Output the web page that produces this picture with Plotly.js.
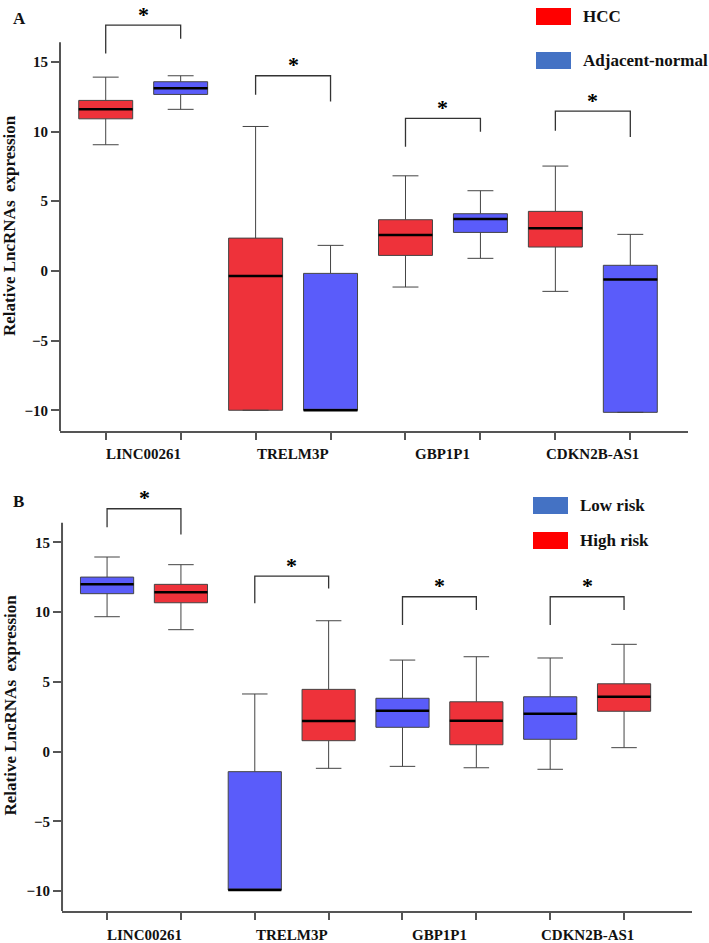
<!DOCTYPE html>
<html>
<head>
<meta charset="utf-8">
<script src="https://cdn.plot.ly/plotly-3.0.1.min.js"></script>
<style>
body { margin: 0; background: #fff; }
#chart { width: 709px; height: 943px; }
</style>
</head>
<body>
<div id="chart"></div>
<script>
let genes = ['LINC00261', 'TRELM3P', 'GBP1P1', 'CDKN2B-AS1'];

// panel A: HCC vs adjacent-normal
let hccUpper = [13.9, 10.36, 6.82, 7.52];
let hccQ3 = [12.23, 2.35, 3.67, 4.27];
let hccMedian = [11.59, -0.37, 2.57, 3.05];
let hccQ1 = [10.91, -10, 1.11, 1.71];
let hccLower = [9.05, -10, -1.16, -1.47];

let adjUpper = [14.0, 1.83, 5.75, 2.62];
let adjQ3 = [13.57, -0.18, 4.1, 0.4];
let adjMedian = [13.11, -10, 3.72, -0.61];
let adjQ1 = [12.66, -10, 2.76, -10.15];
let adjLower = [11.59, -10, 0.9, -10.15];

// panel B: low risk vs high risk
let lowUpper = [13.95, 4.13, 6.56, 6.71];
let lowQ3 = [12.51, -1.44, 3.82, 3.93];
let lowMedian = [11.99, -9.93, 2.93, 2.71];
let lowQ1 = [11.32, -9.93, 1.74, 0.88];
let lowLower = [9.67, -9.93, -1.06, -1.27];

let highUpper = [13.4, 9.38, 6.8, 7.69];
let highQ3 = [11.99, 4.46, 3.57, 4.86];
let highMedian = [11.42, 2.19, 2.21, 3.93];
let highQ1 = [10.67, 0.78, 0.49, 2.89];
let highLower = [8.74, -1.2, -1.16, 0.28];

// significance brackets: top, left leg end, right leg end
let bracketTopA = [17.63, 14.0, 10.94, 11.46];
let bracketLeftA = [15.6, 12.63, 8.9, 10.05];
let bracketRightA = [16.65, 12.16, 9.98, 9.6];
let bracketTopB = [17.41, 12.58, 11.1, 11.1];
let bracketLeftB = [16.08, 10.63, 9.07, 9.07];
let bracketRightB = [15.57, 11.7, 10.15, 10.15];

let red = 'rgb(238,50,58)';
let blue = 'rgb(90,92,250)';
let serif = 'Liberation Serif, Times New Roman, serif';
let boxWidth = 0.72;

let firstPos = genes.map((g, i) => 2 * i);
let secondPos = genes.map((g, i) => 2 * i + 1);

// pixel -> paper helpers (margin l=60 r=17 t=20 b=32)
function px2x(px) { return (px - 60) / 632; }
function px2y(py) { return (911 - py) / 891; }

function boxTrace(pos, lower, q1, med, q3, upper, color, xa, ya) {
    return {
        type: 'box',
        x: pos,
        lowerfence: lower,
        q1: q1,
        median: med,
        q3: q3,
        upperfence: upper,
        width: boxWidth,
        whiskerwidth: 0.48,
        fillcolor: color,
        line: { color: '#444', width: 1 },
        boxpoints: false,
        showlegend: false,
        hoverinfo: 'skip',
        xaxis: xa,
        yaxis: ya
    };
}

function medianTrace(pos, med, xa, ya) {
    let xs = [];
    let ys = [];
    for (let i = 0; i < pos.length; i++) {
        xs.push(pos[i] - boxWidth / 2, pos[i] + boxWidth / 2, null);
        ys.push(med[i], med[i], null);
    }
    return {
        type: 'scatter',
        mode: 'lines',
        x: xs,
        y: ys,
        line: { color: '#000', width: 2.5 },
        showlegend: false,
        hoverinfo: 'skip',
        xaxis: xa,
        yaxis: ya
    };
}

let data = [
    boxTrace(firstPos, hccLower, hccQ1, hccMedian, hccQ3, hccUpper, red, 'x', 'y'),
    boxTrace(secondPos, adjLower, adjQ1, adjMedian, adjQ3, adjUpper, blue, 'x', 'y'),
    medianTrace(firstPos, hccMedian, 'x', 'y'),
    medianTrace(secondPos, adjMedian, 'x', 'y'),
    boxTrace(firstPos, lowLower, lowQ1, lowMedian, lowQ3, lowUpper, blue, 'x2', 'y2'),
    boxTrace(secondPos, highLower, highQ1, highMedian, highQ3, highUpper, red, 'x2', 'y2'),
    medianTrace(firstPos, lowMedian, 'x2', 'y2'),
    medianTrace(secondPos, highMedian, 'x2', 'y2')
];

let shapes = [];
let annotations = [];

function addBrackets(tops, lefts, rights, xa, ya) {
    for (let i = 0; i < genes.length; i++) {
        let x0 = 2 * i;
        let x1 = 2 * i + 1;
        shapes.push({
            type: 'path',
            xref: xa, yref: ya,
            path: 'M' + x0 + ',' + lefts[i] + ' L' + x0 + ',' + tops[i] +
                  ' L' + x1 + ',' + tops[i] + ' L' + x1 + ',' + rights[i],
            line: { color: '#333', width: 1.3 }
        });
        annotations.push({
            xref: xa, yref: ya,
            x: 2 * i + 0.5, y: tops[i],
            text: '*',
            showarrow: false,
            yanchor: 'middle',
            yshift: 11,
            font: { family: serif, size: 22, weight: 'bold', color: '#000' }
        });
    }
}
addBrackets(bracketTopA, bracketLeftA, bracketRightA, 'x', 'y');
addBrackets(bracketTopB, bracketLeftB, bracketRightB, 'x2', 'y2');

// y axis lines stop short of the brackets
shapes.push({ type: 'line', xref: 'x domain', yref: 'y', x0: 0, x1: 0, y0: -11.49, y1: 16.4,
    line: { color: '#555', width: 2 } });
shapes.push({ type: 'line', xref: 'x2 domain', yref: 'y2', x0: 0, x1: 0, y0: -11.43, y1: 16.4,
    line: { color: '#555', width: 2 } });

// category labels under each pair
function addLabels(xa, py) {
    genes.forEach((g, i) => {
        annotations.push({
            xref: xa, yref: 'paper',
            x: 2 * i + 0.5, y: px2y(py),
            text: g,
            showarrow: false,
            yanchor: 'middle',
            font: { family: serif, size: 15, weight: 'bold', color: '#111' }
        });
    });
}
addLabels('x', 454);
addLabels('x2', 935);

// legends
function legendItem(color, text, left, top) {
    shapes.push({
        type: 'rect', xref: 'paper', yref: 'paper',
        x0: px2x(left), x1: px2x(left + 35),
        y0: px2y(top), y1: px2y(top + 17),
        fillcolor: color, line: { width: 0 }
    });
    annotations.push({
        xref: 'paper', yref: 'paper',
        x: px2x(left + 45), y: px2y(top + 8.5),
        xanchor: 'left', yanchor: 'middle',
        text: text, showarrow: false,
        font: { family: serif, size: 17, weight: 'bold', color: '#111' }
    });
}
legendItem('#ff0000', 'HCC', 536, 8);
legendItem('#4472c4', 'Adjacent-normal', 536, 52);
legendItem('#4472c4', 'Low risk', 533, 497);
legendItem('#ff0000', 'High risk', 533, 532);

// panel letters and y titles
[['A', 18], ['B', 501]].forEach(p => {
    annotations.push({
        xref: 'paper', yref: 'paper',
        x: px2x(11), y: px2y(p[1]),
        xanchor: 'left', yanchor: 'middle',
        text: p[0], showarrow: false,
        font: { family: serif, size: 17, weight: 'bold', color: '#111' }
    });
});
[226, 705.5].forEach(c => {
    annotations.push({
        xref: 'paper', yref: 'paper',
        x: px2x(10), y: px2y(c),
        xanchor: 'center', yanchor: 'middle',
        textangle: -90,
        text: 'Relative LncRNAs\u00a0 expression', showarrow: false,
        font: { family: serif, size: 17, weight: 'bold', color: '#111' }
    });
});

function xAxis(domain, range, anchor) {
    return {
        domain: domain,
        range: range,
        anchor: anchor,
        tickmode: 'array',
        tickvals: [0, 1, 2, 3, 4, 5, 6, 7],
        showticklabels: false,
        ticks: 'outside',
        ticklen: 7,
        tickwidth: 2,
        tickcolor: '#555',
        showline: true,
        linecolor: '#555',
        linewidth: 2,
        showgrid: false,
        zeroline: false
    };
}

function yAxis(domain, range, anchor) {
    return {
        domain: domain,
        range: range,
        anchor: anchor,
        tickmode: 'array',
        tickvals: [-10, -5, 0, 5, 10, 15],
        ticks: 'outside',
        ticklen: 8,
        tickwidth: 2,
        tickcolor: '#555',
        tickfont: { family: serif, size: 15, weight: 'bold', color: '#111' },
        showline: false,
        showgrid: false,
        zeroline: false
    };
}

let layout = {
    width: 709,
    height: 943,
    margin: { l: 60, r: 17, t: 20, b: 32 },
    paper_bgcolor: '#fff',
    plot_bgcolor: '#fff',
    boxmode: 'overlay',
    showlegend: false,
    xaxis: xAxis([0, 0.9937], [-0.61, 7.77], 'y'),
    yaxis: yAxis([0.5387, 1], [-11.49, 18.0], 'x'),
    xaxis2: xAxis([0.0032, 1], [-0.61, 7.92], 'y2'),
    yaxis2: yAxis([0, 0.4607], [-11.43, 18.0], 'x2'),
    shapes: shapes,
    annotations: annotations
};

Plotly.newPlot('chart', data, layout, { displayModeBar: false, staticPlot: true });
</script>
</body>
</html>
